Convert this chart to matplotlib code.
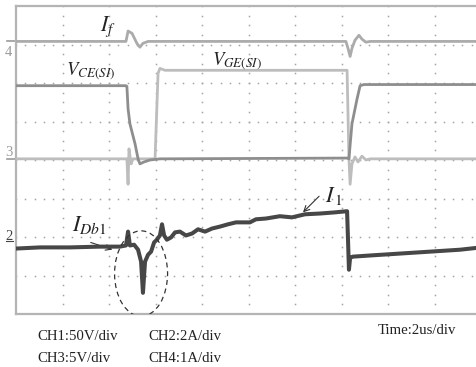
import matplotlib

matplotlib.use("Agg")
import matplotlib.pyplot as plt
import numpy as np
from matplotlib.patches import Ellipse

plt.rcParams["mathtext.fontset"] = "stix"
plt.rcParams["font.family"] = "Liberation Serif"

# time axis in us (2 us/div), vertical axis in screen divisions (0 = bottom)
t_if = [0, 4.73, 4.82, 4.99, 5.20, 5.33, 5.46, 5.68, 14.19, 14.28, 14.37,
        14.45, 14.58, 14.75, 14.88, 15.05, 15.23, 20]
y_if = [7.08, 7.08, 7.35, 7.29, 7.03, 6.93, 7.03, 7.08, 7.08, 6.90, 6.69,
        6.90, 7.11, 7.24, 7.14, 7.06, 7.08, 7.08]

t_vce = [0, 4.73, 4.77, 4.82, 4.90, 5.12, 5.25, 5.33, 5.51, 5.76, 6.19,
         14.24, 14.32, 14.45, 14.67, 14.80, 14.97, 20]
y_vce = [5.93, 5.93, 5.91, 5.33, 4.94, 4.42, 4.03, 3.90, 3.95, 4.00, 4.03,
         4.05, 4.03, 4.94, 5.59, 5.93, 5.96, 5.96]

t_vge = [0, 4.73, 4.77, 4.82, 4.86, 4.95, 5.03, 5.98, 6.11, 6.19, 6.41,
         14.24, 14.32, 14.37, 14.45, 14.58, 14.71, 14.88, 15.05, 15.23, 20]
y_vge = [4.03, 4.03, 4.03, 3.37, 4.29, 3.90, 4.03, 4.03, 6.25, 6.38, 6.33,
         6.33, 4.03, 3.37, 3.90, 4.08, 3.95, 4.10, 4.00, 4.03, 4.03]

t_i1 = [0, 1.03, 2.32, 3.61, 4.47, 4.73, 4.82, 4.90, 5.08, 5.25, 5.38, 5.46,
        5.55, 5.68, 5.81, 5.94, 6.06, 6.19, 6.28, 6.37, 6.49, 6.67, 6.84,
        7.05, 7.31, 7.57, 7.83, 8.13, 8.43, 8.77, 9.12, 9.46, 10.06, 10.32,
        10.75, 11.35, 11.87, 12.43, 13.08, 13.72, 14.24, 14.28, 14.32, 14.37,
        14.49, 15.23, 16.52, 17.81, 19.10, 20]
y_i1 = [1.70, 1.73, 1.73, 1.75, 1.75, 1.78, 2.14, 1.78, 1.80, 1.67, 1.36, 0.55,
        1.36, 1.54, 1.62, 1.86, 1.93, 2.04, 2.33, 2.04, 1.93, 1.99, 2.12,
        2.14, 2.04, 2.09, 2.20, 2.14, 2.22, 2.27, 2.33, 2.38, 2.38, 2.46,
        2.48, 2.54, 2.51, 2.59, 2.61, 2.64, 2.67, 1.93, 1.15, 1.46,
        1.49, 1.52, 1.57, 1.62, 1.67, 1.73]

fig = plt.figure(figsize=(4.76, 3.67), dpi=100)
ax = fig.add_axes([16 / 476, 53 / 367, 465 / 476, 308 / 367])
ax.set_xlim(0, 20)
ax.set_ylim(0, 8)
ax.set_xticks([])
ax.set_yticks([])
for side in ["top", "left", "bottom"]:
    ax.spines[side].set_color("#b4b4b4")
    ax.spines[side].set_linewidth(1.6)
ax.spines["right"].set_visible(False)

# dotted scope graticule
for x in np.arange(2, 20, 2):
    yy = np.arange(0, 8.01, 0.25)
    ax.plot(np.full_like(yy, x), yy, ls="none", marker="s", ms=1.1,
            mfc="#a4a4a4", mec="none", zorder=1)
for y in np.arange(1, 8, 1):
    xx = np.arange(0, 20.01, 0.4)
    ax.plot(xx, np.full_like(xx, y), ls="none", marker="s", ms=1.1,
            mfc="#a4a4a4", mec="none", zorder=1)

ax.plot(t_if, y_if, color="#ababab", lw=2.0, zorder=3)
ax.plot(t_vge, y_vge, color="#bdbdbd", lw=2.0, zorder=3)
ax.plot(t_vce, y_vce, color="#8e8e8e", lw=2.0, zorder=4)
ax.plot(t_i1, y_i1, color="#474747", lw=2.9, zorder=5)

ax.add_patch(Ellipse((5.38, 1.05), 2.28, 2.22, fill=False, ls=(0, (4, 3)),
                     lw=0.9, color="#333333", zorder=6))

lab = dict(color="#222222", va="center", ha="left")
ax.text(3.61, 7.45, r"$I_f$", fontsize=15.5, **lab)
ax.text(2.15, 6.30, r"$V_{CE(SI)}$", fontsize=13.5, **lab)
ax.text(8.43, 6.56, r"$V_{GE(SI)}$", fontsize=13.5, **lab)
ax.text(2.41, 2.30, r"$I_{Db1}$", fontsize=16, **lab)
ax.text(13.29, 3.06, r"$I_{\,1}$", fontsize=16, **lab)
arr = dict(arrowstyle="->", color="#333333", lw=0.8)
ax.annotate("", xy=(4.26, 1.65), xytext=(3.10, 1.88), arrowprops=arr)
ax.annotate("", xy=(12.26, 2.59), xytext=(13.12, 3.11), arrowprops=arr)

# channel ground markers
mk = dict(clip_on=False, fontsize=10.5, ha="center", va="center")
ax.text(-0.32, 6.8, "4", color="#9a9a9a", **mk)
ax.text(-0.32, 4.2, "3", color="#9a9a9a", **mk)
ax.text(-0.32, 2.0, "2", color="#444444", **mk)
ax.plot([-0.4, -0.05], [7.08, 7.08], color="#9a9a9a", lw=1.2, clip_on=False)
ax.plot([-0.4, -0.05], [4.03, 4.03], color="#9a9a9a", lw=1.2, clip_on=False)
ax.plot([-0.45, -0.15], [1.9, 1.9], color="#444444", lw=0.8, clip_on=False)

txt = dict(fontsize=10.6, color="#222222", va="center", ha="left")
fig.text(37 / 476, 1 - 337 / 367, "CH1:50V/div", **txt)
fig.text(148 / 476, 1 - 337 / 367, "CH2:2A/div", **txt)
fig.text(37 / 476, 1 - 358 / 367, "CH3:5V/div", **txt)
fig.text(148 / 476, 1 - 358 / 367, "CH4:1A/div", **txt)
fig.text(378 / 476, 1 - 331 / 367, "Time:2us/div", **txt)

fig.savefig("out.png", dpi=100)
